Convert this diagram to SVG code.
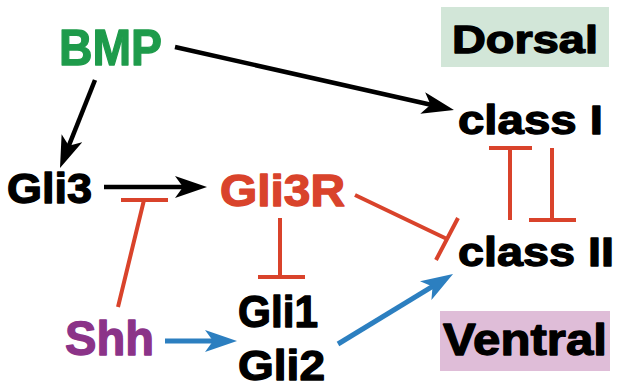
<svg xmlns="http://www.w3.org/2000/svg" width="619" height="390" viewBox="0 0 619 390">
  <style>
    text { font-family: "Liberation Sans", Arial, sans-serif; font-weight: bold; stroke-width: 1.3; stroke-linejoin: round; }
    .blk { fill: #000; stroke: #000; }
    .grn { fill: #1e9b4b; stroke: #1e9b4b; }
    .red { fill: #d9432b; stroke: #d9432b; }
    .pur { fill: #8b3388; stroke: #8b3388; }
    .act { fill: none; stroke: #000; stroke-width: 4.5; }
    .act-blue { fill: none; stroke: #2c7fc0; stroke-width: 5; }
    .inh { fill: none; stroke: #d9432b; stroke-width: 4; }
  </style>
  <defs>
    <marker id="arrow" viewBox="0 0 32 22" refX="22" refY="11" markerWidth="32" markerHeight="22" markerUnits="userSpaceOnUse" orient="auto">
      <path d="M0,0 L32,11 L0,22 L8,11 Z" fill="#000"/>
    </marker>
    <marker id="arrow-blue" viewBox="0 0 32 22" refX="22" refY="11" markerWidth="32" markerHeight="22" markerUnits="userSpaceOnUse" orient="auto">
      <path d="M0,0 L32,11 L0,22 L8,11 Z" fill="#2c7fc0"/>
    </marker>
  </defs>
  <rect width="619" height="390" fill="#fff"/>

  <g id="dorsal">
    <rect x="441" y="7" width="168" height="60" fill="#d2e6d8"/>
    <text x="452" y="53" font-size="39" textLength="146" lengthAdjust="spacingAndGlyphs" class="blk">Dorsal</text>
  </g>
  <g id="ventral">
    <rect x="440" y="311" width="170" height="60" fill="#dfbdd8"/>
    <text x="443" y="355" font-size="44" textLength="164" lengthAdjust="spacingAndGlyphs" class="blk">Ventral</text>
  </g>

  <g id="bmp">
    <text x="59" y="65" font-size="50" textLength="103" lengthAdjust="spacingAndGlyphs" class="grn">BMP</text>
  </g>
  <g id="gli3">
    <text x="7" y="203" font-size="42" textLength="85" lengthAdjust="spacingAndGlyphs" class="blk">Gli3</text>
  </g>
  <g id="gli3r">
    <text x="220" y="206" font-size="44" textLength="125" lengthAdjust="spacingAndGlyphs" class="red">Gli3R</text>
  </g>
  <g id="class1">
    <text x="458" y="134" font-size="41" textLength="145" lengthAdjust="spacingAndGlyphs" class="blk">class I</text>
  </g>
  <g id="class2">
    <text x="458" y="266" font-size="41" textLength="156" lengthAdjust="spacingAndGlyphs" class="blk">class II</text>
  </g>
  <g id="gli12">
    <text x="238" y="327" font-size="44" textLength="80" lengthAdjust="spacingAndGlyphs" class="blk">Gli1</text>
    <text x="238" y="380" font-size="43" textLength="87" lengthAdjust="spacingAndGlyphs" class="blk">Gli2</text>
  </g>
  <g id="shh">
    <text x="65" y="355" font-size="48" textLength="89" lengthAdjust="spacingAndGlyphs" class="pur">Shh</text>
  </g>

  <g id="connectors">
    <!-- activation -->
    <line x1="175" y1="47" x2="444.2" y2="107.8" class="act" marker-end="url(#arrow)"/>
    <line x1="95" y1="80" x2="63.7" y2="158.7" class="act" marker-end="url(#arrow)"/>
    <line x1="104" y1="187" x2="197" y2="187" class="act" marker-end="url(#arrow)"/>
    <line x1="165" y1="341" x2="227" y2="341" class="act-blue" marker-end="url(#arrow-blue)"/>
    <line x1="338" y1="344" x2="444.5" y2="279.2" class="act-blue" marker-end="url(#arrow-blue)"/>
    <!-- inhibition -->
    <path d="M118,307 L144,200 M121,200 L168,200" class="inh"/>
    <path d="M280,218 L280,277 M258,277 L305,277" class="inh"/>
    <path d="M355,195 L447,239 M458,218 L436,260" class="inh"/>
    <path d="M510,220 L510,148 M489,148 L532,148" class="inh"/>
    <path d="M552,148 L552,220 M529,220 L576,220" class="inh"/>
  </g>
</svg>
